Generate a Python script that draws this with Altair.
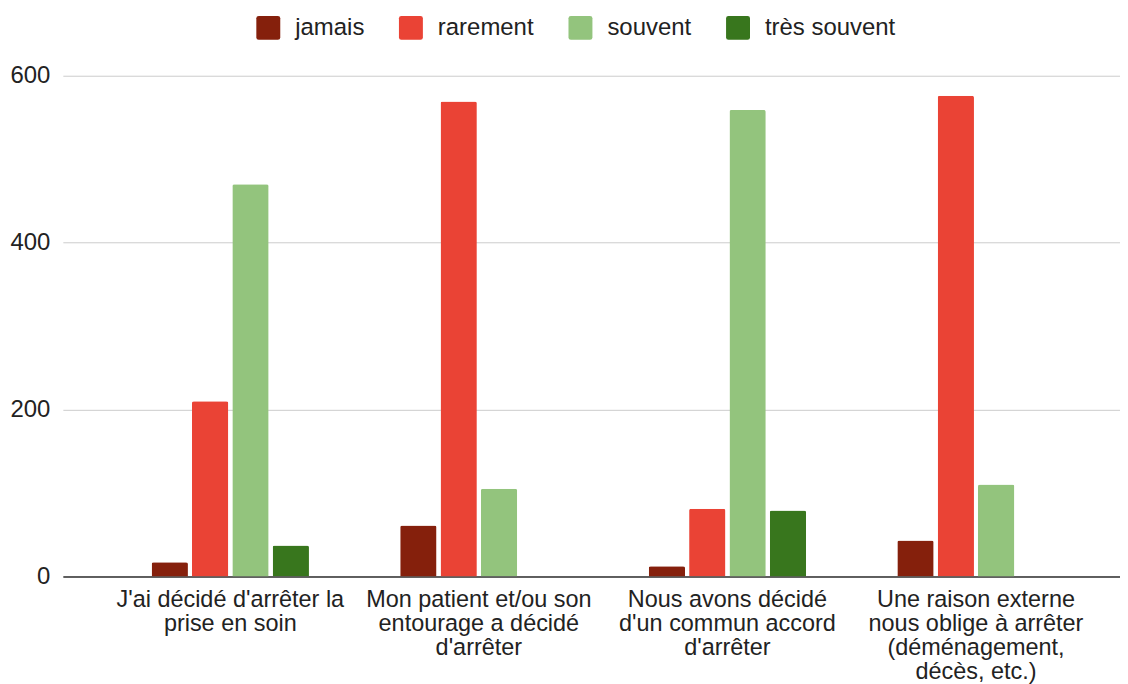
import altair as alt
import pandas as pd
import json

label_lines = [
    ["J'ai décidé d'arrêter la", "prise en soin"],
    ["Mon patient et/ou son", "entourage a décidé", "d'arrêter"],
    ["Nous avons décidé", "d'un commun accord", "d'arrêter"],
    ["Une raison externe", "nous oblige à arrêter", "(déménagement,", "décès, etc.)"],
]
categories = [" ".join(l) for l in label_lines]
series = ["jamais", "rarement", "souvent", "très souvent"]
colors = ["#85200c", "#ea4335", "#93c47d", "#38761d"]

jamais = [17, 61, 12, 43]
rarement = [210, 569, 81, 576]
souvent = [470, 105, 559, 110]
tres_souvent = [37, 0, 79, 0]

rows = []
for s, vals in zip(series, [jamais, rarement, souvent, tres_souvent]):
    for c, v in zip(categories, vals):
        rows.append({"cat": c, "serie": s, "val": v})
df = pd.DataFrame(rows)

label_map = json.dumps(dict(zip(categories, label_lines)), ensure_ascii=False)

FONT = "Liberation Sans"
rounded = ("M -0.8 -1 H 0.8 Q 1 -1 1 -0.8 V 0.8 Q 1 1 0.8 1 H -0.8 "
           "Q -1 1 -1 0.8 V -0.8 Q -1 -1 -0.8 -1 Z")

chart = alt.Chart(df).mark_bar(
    cornerRadiusTopLeft=2, cornerRadiusTopRight=2
).encode(
    x=alt.X("cat:N", sort=categories, title=None,
            scale=alt.Scale(paddingInner=0.367, paddingOuter=0.31, align=0.576),
            axis=alt.Axis(labelAngle=0, labelFont=FONT, labelFontSize=23.5,
                          labelColor="#222222", labelLimit=400,
                          labelLineHeight=24, labelPadding=11,
                          labelExpr=label_map + "[datum.value]",
                          ticks=False, domain=True, domainColor="#333333",
                          domainWidth=1.5, grid=False)),
    xOffset=alt.XOffset("serie:N", sort=series,
                        scale=alt.Scale(paddingInner=0.1, paddingOuter=0)),
    y=alt.Y("val:Q", title=None,
            scale=alt.Scale(domain=[0, 600], nice=False),
            axis=alt.Axis(values=[0, 200, 400, 600], labelFont=FONT,
                          labelFontSize=24, labelColor="#222222",
                          labelPadding=13, ticks=False, domain=False,
                          gridColor="#cccccc", gridWidth=1)),
    color=alt.Color("serie:N", sort=series,
                    scale=alt.Scale(domain=series, range=colors),
                    legend=alt.Legend(title=None, orient="none",
                                      direction="horizontal",
                                      legendX=194, legendY=-60,
                                      symbolType=rounded, symbolSize=576,
                                      symbolStrokeWidth=0,
                                      labelFont=FONT, labelFontSize=24,
                                      labelColor="#222222", labelOffset=15,
                                      columnPadding=34, padding=0)),
).properties(
    width=1060, height=502,
    autosize=alt.AutoSizeParams(type="none"),
    padding={"left": 55, "top": 67, "right": 0, "bottom": 107},
).configure_view(stroke=None)

chart.save("out.html", embed_options={"renderer": "svg", "actions": False})
